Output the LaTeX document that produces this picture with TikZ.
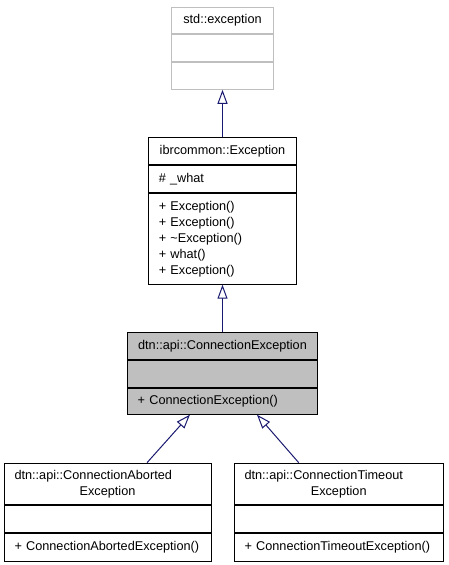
\documentclass[tikz,border=0pt]{standalone}
\usepackage{fontspec}
\setmainfont{Liberation Sans}
\usetikzlibrary{positioning, calc, arrows.meta}
\definecolor{grey75}{HTML}{BFBFBF}
\definecolor{midnightblue}{HTML}{191970}

\begin{document}
\begin{tikzpicture}[x=1pt, y=-1pt, node distance=0pt,
    font=\fontsize{12.7}{16}\selectfont,
    part/.style={draw=black, fill=white, line width=1pt, inner sep=0pt},
    title/.style={part, align=center},
    members/.style={part, align=left, inner xsep=10.5pt, inner ysep=0pt},
    inherit/.style={draw=midnightblue, line width=1pt, -{Triangle[open, length=14pt, width=10pt, fill=white]}}]
      \useasboundingbox (0,0) rectangle (448,565);

      % std::exception
      \node[title, draw=grey75, minimum width=102pt, minimum height=26.7pt, anchor=north] (se) at (222.5,6.7) {std::exception};
      \node[part, draw=grey75, minimum width=102pt, minimum height=26.7pt, below=of se] (seat) {};
      \node[part, draw=grey75, minimum width=102pt, minimum height=26.7pt, below=of seat] (seop) {};

      % ibrcommon::Exception
      \node[title, minimum width=148.4pt, minimum height=27.3pt, anchor=north] (ie) at (222.5,136.7) {ibrcommon::Exception};
      \node[members, text width=127.4pt, minimum height=27pt, below=of ie] (ieat) {\# \_what};
      \node[members, text width=127.4pt, minimum height=90.7pt, below=of ieat] (ieop) {+ Exception()\\+ Exception()\\+ \textasciitilde Exception()\\+ what()\\+ Exception()};

      % dtn::api::ConnectionException
      \node[title, fill=grey75, minimum width=190.6pt, minimum height=27.3pt, anchor=north] (ce) at (222.5,331.7) {dtn::api::ConnectionException};
      \node[part, fill=grey75, minimum width=190.6pt, minimum height=26.7pt, below=of ce] (ceat) {};
      \node[members, fill=grey75, text width=169.6pt, minimum height=26pt, below=of ceat] (ceop) {+ ConnectionException()};

      % dtn::api::ConnectionAbortedException
      \node[members, text width=186pt, minimum height=41.6pt, anchor=north] (ca) at (107.5,462.7) {dtn::api::ConnectionAborted\\\makebox[\linewidth]{Exception}};
      \node[part, minimum width=207pt, minimum height=26.7pt, below=of ca] (caat) {};
      \node[members, text width=186pt, minimum height=28pt, below=of caat] (caop) {+ ConnectionAbortedException()};

      % dtn::api::ConnectionTimeoutException
      \node[members, text width=188.3pt, minimum height=41.6pt, anchor=north] (ct) at (338.7,462.7) {dtn::api::ConnectionTimeout\\\makebox[\linewidth]{Exception}};
      \node[part, minimum width=209.3pt, minimum height=26.7pt, below=of ct] (ctat) {};
      \node[members, text width=188.3pt, minimum height=28pt, below=of ctat] (ctop) {+ ConnectionTimeoutException()};

      % inheritance
      \draw[inherit] (ie.north) -- (seop.south);
      \draw[inherit] (ce.north) -- (ieop.south);
      \draw[inherit] ($(ca.north west)!0.69!(ca.north east)$) -- ($(ceop.south west)!0.33!(ceop.south east)$);
      \draw[inherit] ($(ct.north west)!0.31!(ct.north east)$) -- ($(ceop.south west)!0.68!(ceop.south east)$);
    \end{tikzpicture}
\end{document}
